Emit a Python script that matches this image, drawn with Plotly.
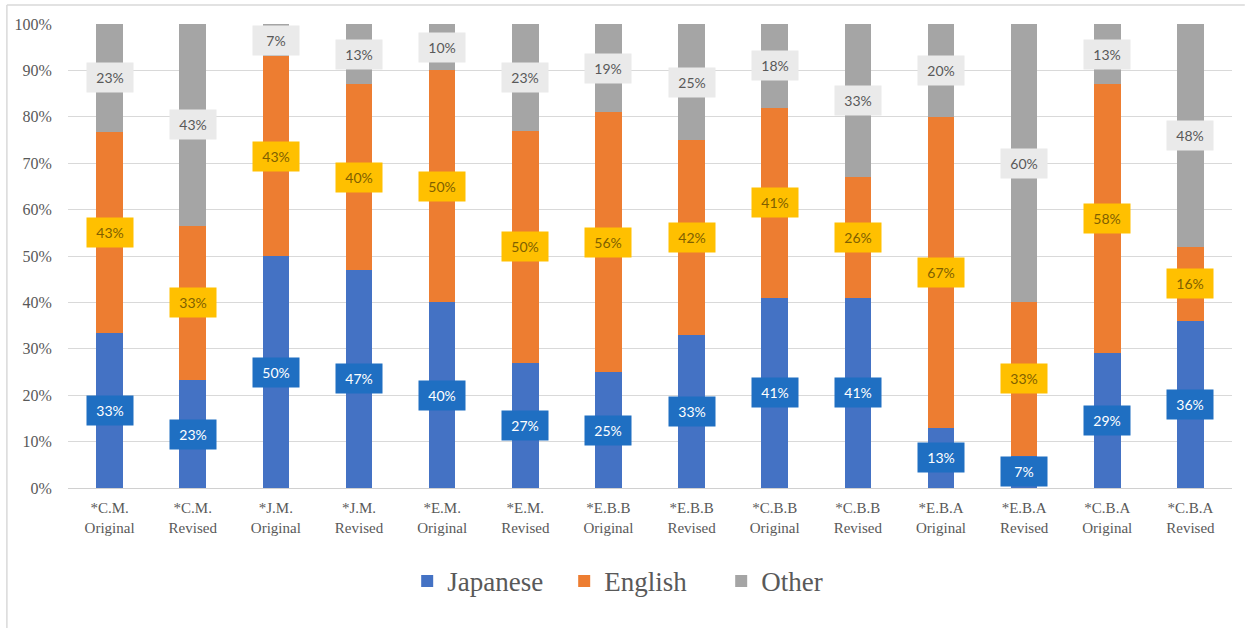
import plotly.graph_objects as go

categories = ["*C.M.<br>Original", "*C.M.<br>Revised", "*J.M.<br>Original", "*J.M.<br>Revised",
              "*E.M.<br>Original", "*E.M.<br>Revised", "*E.B.B<br>Original", "*E.B.B<br>Revised",
              "*C.B.B<br>Original", "*C.B.B<br>Revised", "*E.B.A<br>Original", "*E.B.A<br>Revised",
              "*C.B.A<br>Original", "*C.B.A<br>Revised"]
japanese = [33, 23, 50, 47, 40, 27, 25, 33, 41, 41, 13, 7, 29, 36]
english = [43, 33, 43, 40, 50, 50, 56, 42, 41, 26, 67, 33, 58, 16]
other = [23, 43, 7, 13, 10, 23, 19, 25, 18, 33, 20, 60, 13, 48]
y_ticks = [0, 10, 20, 30, 40, 50, 60, 70, 80, 90, 100]
y_tick_labels = [f"{v}%" for v in y_ticks]

series = [
    ("Japanese", japanese, "#4472C4", "#1F6FC2", "#FFFFFF"),
    ("English", english, "#ED7D31", "#FFC000", "#7F6000"),
    ("Other", other, "#A5A5A5", "#EAEAEA", "#595959"),
]

fig = go.Figure()
for name, vals, col, _, _ in series:
    fig.add_trace(go.Bar(x=categories, y=vals, name=name, marker_color=col,
                         marker_line_width=0, hoverinfo="x+y+name"))

# normalized totals for label placement (bars are normalised to 100%)
totals = [j + e + o for j, e, o in zip(japanese, english, other)]
annotations = []
for i, cat in enumerate(categories):
    base = 0.0
    for name, vals, col, boxcol, txtcol in series:
        v = vals[i] * 100.0 / totals[i]
        mid = base + v / 2
        base += v
        annotations.append(dict(
            x=cat, y=mid, xref="x", yref="y", text=f"{vals[i]}%", showarrow=False,
            bgcolor=boxcol, width=40, height=23, borderpad=3,
            font=dict(family="Lato, Open Sans, sans-serif", size=14, color=txtcol),
        ))

fig.update_layout(
    barmode="stack",
    barnorm="percent",
    bargap=0.68,
    width=1250, height=628,
    margin=dict(l=68, r=18, t=24, b=140),
    plot_bgcolor="white", paper_bgcolor="white",
    font=dict(family="Liberation Serif, Times New Roman, serif", color="#595959"),
    showlegend=True,
    legend=dict(orientation="h", x=0.2914, xanchor="left", y=-0.1485, yanchor="top",
                entrywidth=112, entrywidthmode="pixels",
                font=dict(family="Liberation Serif, serif", size=27, color="#595959"),
                itemclick=False, itemdoubleclick=False, traceorder="normal"),
    annotations=annotations,
    shapes=[
        dict(type="line", xref="paper", yref="paper", x0=-0.0525, x1=1.011, y0=1.041, y1=1.041,
             line=dict(color="#D9D9D9", width=1.5)),
        dict(type="line", xref="paper", yref="paper", x0=-0.0525, x1=-0.0525, y0=1.041, y1=-0.302,
             line=dict(color="#D9D9D9", width=1.5)),
    ],
)
fig.update_xaxes(showgrid=False, showline=True, linecolor="#D0D0D0", linewidth=1,
                 tickfont=dict(family="Liberation Serif, serif", size=15, color="#595959"),
                 ticks="outside", ticklen=6, tickcolor="rgba(0,0,0,0)")
fig.update_yaxes(range=[0, 100], tickvals=y_ticks, ticktext=y_tick_labels,
                 showgrid=True, gridcolor="#D9D9D9", gridwidth=1, zeroline=False,
                 showline=False,
                 tickfont=dict(family="Liberation Serif, serif", size=16, color="#595959"),
                 ticks="outside", ticklen=12, tickcolor="rgba(0,0,0,0)")

fig.write_html("out.html")
